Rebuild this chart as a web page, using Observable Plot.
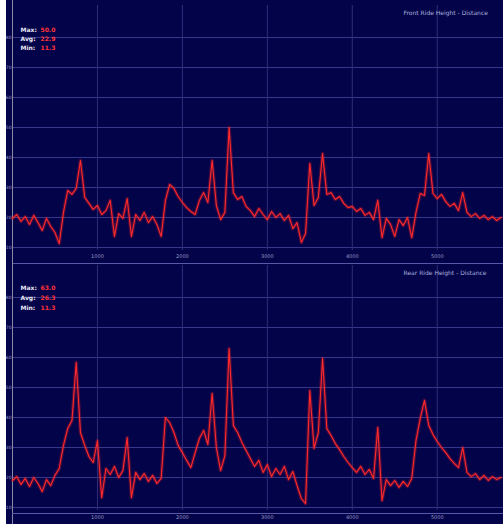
<!DOCTYPE html>
<html><head><meta charset="utf-8">
<script src="https://cdn.jsdelivr.net/npm/d3@7"></script>
<script src="https://cdn.jsdelivr.net/npm/@observablehq/plot@0.6"></script>
<style>
html,body{margin:0;padding:0;background:#fff;}
#wrap{position:absolute;left:6px;top:0;width:497px;height:524px;background:#03034a;overflow:hidden;}
#wrap svg{display:block;}
</style></head><body><div id="wrap"></div>
<script>
const dist = [0,50,100,150,200,250,300,350,400,450,
500,550,600,650,700,750,800,850,900,950,
1000,1050,1100,1150,1200,1250,1300,1350,1400,1450,
1500,1550,1600,1650,1700,1750,1800,1850,1900,1950,
2000,2050,2100,2150,2200,2250,2300,2350,2400,2450,
2500,2550,2600,2650,2700,2750,2800,2850,2900,2950,
3000,3050,3100,3150,3200,3250,3300,3350,3400,3450,
3500,3550,3600,3650,3700,3750,3800,3850,3900,3950,
4000,4050,4100,4150,4200,4250,4300,4350,4400,4450,
4500,4550,4600,4650,4700,4750,4800,4850,4900,4950,
5000,5050,5100,5150,5200,5250,5300,5350,5400,5450,
5500,5550,5600,5650,5700,5750];
const front = [19.7,21.0,18.7,20.3,17.7,20.7,18.3,15.7,19.7,17.0,
15.0,11.3,21.7,29.0,27.7,29.7,39.0,26.7,24.7,22.7,
24.0,21.0,22.3,25.7,13.7,21.3,19.7,26.3,13.7,21.0,
19.0,21.7,18.3,20.3,17.7,13.7,25.7,31.0,29.7,27.0,
25.0,23.3,22.0,21.0,25.7,28.3,25.0,39.0,24.0,19.3,
21.7,50.0,28.3,26.0,27.0,23.7,22.3,20.3,23.0,21.0,
19.3,22.0,20.0,21.3,19.0,20.7,16.3,18.3,11.7,14.7,
38.0,24.0,26.7,41.3,27.7,28.3,26.0,27.0,24.7,23.3,
23.7,22.0,23.0,20.7,21.7,19.3,25.7,13.3,19.7,17.7,
13.7,19.3,17.3,20.0,13.3,21.7,28.0,27.3,41.3,28.0,
26.3,27.7,25.3,23.7,24.7,22.3,28.3,21.7,20.3,21.3,
19.7,20.7,19.3,20.3,19.0,20.0];
const rear = [19.0,20.3,17.7,19.7,17.0,20.0,18.0,15.3,19.3,17.3,
20.7,23.0,30.7,36.3,39.0,58.3,35.0,30.7,27.0,25.0,
32.3,13.3,23.0,21.0,23.7,20.0,22.3,33.3,13.3,21.7,
19.3,21.3,18.7,20.7,18.0,19.7,40.0,38.3,35.0,30.7,
28.3,25.7,23.3,28.3,33.0,35.7,31.0,48.0,30.0,22.3,
27.3,63.0,37.3,35.0,31.7,29.0,26.3,23.7,25.7,21.7,
24.3,20.3,23.0,21.0,23.7,19.3,22.0,17.3,13.0,11.3,
49.0,29.7,35.0,59.7,36.3,34.0,31.3,29.3,27.0,25.0,
23.3,21.7,23.7,21.0,22.7,19.7,36.7,12.3,19.3,17.3,
19.0,16.7,18.7,17.0,19.7,32.3,39.7,45.7,37.3,34.3,
32.0,30.0,28.3,26.3,24.7,23.3,30.0,21.7,20.3,21.3,
19.3,20.7,19.0,20.3,19.3,20.0];
const xTicks = [1000,2000,3000,4000,5000];
const yTicks = [10,20,30,40,50,60,70,80];
const statLabels = ["Max:","Avg:","Min:"];
const titles = ["Front Ride Height - Distance","Rear Ride Height - Distance"];

function panel(values, title, o) {
  const data = dist.map((d, i) => ({d, v: values[i]}));
  const stats = [d3.max(values), d3.mean(values), d3.min(values)].map(v => v.toFixed(1));
  const legendMarks = [];
  statLabels.forEach((l, i) => {
    legendMarks.push(Plot.text([l], {text: d => d, frameAnchor: "top-left", dx: 8, dy: o.legDy[i], fill: "#e8e8f4", fontSize: 6, fontWeight: "bold", textAnchor: "start"}));
    legendMarks.push(Plot.text([stats[i]], {text: d => d, frameAnchor: "top-left", dx: 28, dy: o.legDy[i], fill: "#ff3535", fontSize: 6, fontWeight: "bold", textAnchor: "start"}));
  });
  return Plot.plot({
    width: 497, height: o.height,
    marginLeft: 6, marginRight: 0, marginTop: o.mt, marginBottom: o.mb,
    style: {background: "transparent", fontFamily: "DejaVu Sans, sans-serif", fontSize: "5px", overflow: "visible"},
    x: {domain: [0, 5780], axis: null},
    y: {domain: [9, 90.67], axis: null},
    marks: [
      Plot.ruleY(yTicks, {stroke: "#36368a", strokeWidth: 1}),
      Plot.ruleX(xTicks, {stroke: "#2e2e7a", strokeWidth: 1}),
      Plot.ruleX([0], {stroke: "#8a8aa8", insetTop: -o.mt, insetBottom: -o.mb}),
      Plot.ruleY([9], {stroke: "#5858a8", dy: o.sepDy}),
      Plot.axisX(xTicks, {label: null, tickFormat: d => String(d), tickSize: 0, tickPadding: o.xPad, fontSize: 5, fill: "#9a9ac4", stroke: "#9a9ac4"}),
      Plot.axisY(yTicks, {label: null, tickSize: 0, tickPadding: 1, fontSize: 4.5, fill: "#9a9ac4", stroke: "#9a9ac4"}),
      Plot.line(data, {x: "d", y: "v", stroke: "#ff2020", strokeWidth: 3.5, strokeOpacity: 0.28}),
      Plot.line(data, {x: "d", y: "v", stroke: "#ff2a2a", strokeWidth: 1.1}),
      Plot.text([title], {text: d => d, frameAnchor: "top-left", dx: 391, dy: 5, fill: "#a8b0dc", fontSize: 6, textAnchor: "start"}),
      ...legendMarks
    ]
  });
}

const wrap = document.getElementById("wrap");
wrap.appendChild(panel(front, titles[0], {height: 262, mt: 5, mb: 12, sepDy: 13, xPad: 4, legDy: [22, 31, 40]}));
wrap.appendChild(panel(rear, titles[1], {height: 262, mt: 3, mb: 14, sepDy: 3, xPad: 4.5, legDy: [20, 30, 40]}));
</script>
</body></html>
